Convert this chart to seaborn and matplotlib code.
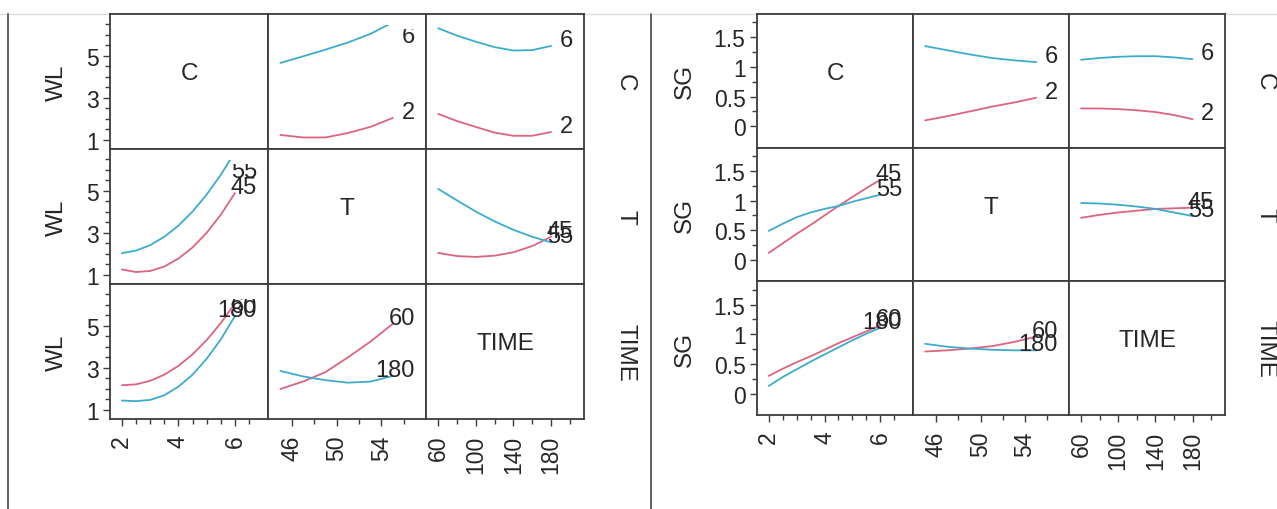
import numpy as np
import pandas as pd
import matplotlib
matplotlib.use("Agg")
import matplotlib.pyplot as plt
import seaborn as sns
from matplotlib.patches import Rectangle
from matplotlib.lines import Line2D
from matplotlib.ticker import FuncFormatter

# ---------------- data ----------------
FACTORS = ["C", "T", "TIME"]

# x positions (factor settings) of the profile curves
C_X = [2, 2.5, 3, 3.5, 4, 4.5, 5, 5.5, 6]
T_X = [45, 47, 49, 51, 53, 55]
TIME_X = [60, 80, 100, 120, 140, 160, 180]

# trace labels (low level, high level)
C_LABELS = ["2", "6"]
T_LABELS = ["45", "55"]
TIME_LABELS = ["60", "180"]

# WL response
WL_C2_vs_T = [1.24, 1.12, 1.12, 1.33, 1.62, 2.05]
WL_C6_vs_T = [4.67, 4.98, 5.30, 5.64, 6.05, 6.60]
WL_C2_vs_TIME = [2.24, 1.90, 1.62, 1.35, 1.20, 1.20, 1.38]
WL_C6_vs_TIME = [6.32, 5.97, 5.68, 5.42, 5.26, 5.28, 5.48]
WL_T45_vs_C = [1.26, 1.14, 1.19, 1.40, 1.78, 2.31, 3.01, 3.87, 4.90]
WL_T55_vs_C = [2.04, 2.16, 2.42, 2.82, 3.35, 4.02, 4.83, 5.77, 6.85]
WL_T45_vs_TIME = [2.05, 1.90, 1.86, 1.92, 2.08, 2.38, 2.82]
WL_T55_vs_TIME = [5.10, 4.55, 4.02, 3.55, 3.15, 2.82, 2.55]
WL_TIME60_vs_C = [2.18, 2.22, 2.39, 2.68, 3.10, 3.65, 4.33, 5.14, 6.07]
WL_TIME180_vs_C = [1.45, 1.42, 1.48, 1.70, 2.11, 2.68, 3.44, 4.36, 5.47]
WL_TIME60_vs_T = [2.00, 2.35, 2.80, 3.50, 4.25, 5.10]
WL_TIME180_vs_T = [2.86, 2.60, 2.42, 2.30, 2.35, 2.62]

# SG response
SG_C2_vs_T = [0.10, 0.17, 0.25, 0.33, 0.40, 0.48]
SG_C6_vs_T = [1.35, 1.28, 1.21, 1.15, 1.11, 1.08]
SG_C2_vs_TIME = [0.30, 0.30, 0.29, 0.27, 0.24, 0.19, 0.12]
SG_C6_vs_TIME = [1.12, 1.15, 1.17, 1.18, 1.18, 1.16, 1.13]
SG_T45_vs_C = [0.12, 0.28, 0.44, 0.59, 0.75, 0.91, 1.06, 1.21, 1.35]
SG_T55_vs_C = [0.49, 0.61, 0.72, 0.80, 0.86, 0.91, 0.98, 1.04, 1.10]
SG_T45_vs_TIME = [0.71, 0.76, 0.80, 0.83, 0.86, 0.87, 0.88]
SG_T55_vs_TIME = [0.96, 0.95, 0.93, 0.90, 0.86, 0.80, 0.74]
SG_TIME60_vs_C = [0.30, 0.42, 0.53, 0.63, 0.74, 0.85, 0.95, 1.05, 1.15]
SG_TIME180_vs_C = [0.13, 0.28, 0.41, 0.54, 0.66, 0.78, 0.90, 1.01, 1.11]
SG_TIME60_vs_T = [0.71, 0.73, 0.76, 0.80, 0.87, 0.96]
SG_TIME180_vs_T = [0.84, 0.79, 0.76, 0.74, 0.73, 0.73]

# axis ticks
C_TICKS = [2, 4, 6]
T_TICKS = [46, 50, 54]
TIME_TICKS = [60, 100, 140, 180]
WL_TICKS = [1, 3, 5]
SG_TICKS = [0, 0.5, 1, 1.5]

# ---------------- tables built from the arrays ----------------
X_LEVELS = {"C": C_X, "T": T_X, "TIME": TIME_X}
TRACE_LABELS = {"C": C_LABELS, "T": T_LABELS, "TIME": TIME_LABELS}
X_TICKS = {"C": C_TICKS, "T": T_TICKS, "TIME": TIME_TICKS}
X_MINOR = {"C": np.arange(2, 6.51, 0.5), "T": np.arange(46, 56.1, 2),
           "TIME": np.arange(60, 200.1, 20)}
X_LIMS = {"C": (1.58, 7.17), "T": (43.9, 57.96), "TIME": (47, 215)}

WL_CELLS = {
    ("C", "T"): (WL_C2_vs_T, WL_C6_vs_T),
    ("C", "TIME"): (WL_C2_vs_TIME, WL_C6_vs_TIME),
    ("T", "C"): (WL_T45_vs_C, WL_T55_vs_C),
    ("T", "TIME"): (WL_T45_vs_TIME, WL_T55_vs_TIME),
    ("TIME", "C"): (WL_TIME60_vs_C, WL_TIME180_vs_C),
    ("TIME", "T"): (WL_TIME60_vs_T, WL_TIME180_vs_T),
}
SG_CELLS = {
    ("C", "T"): (SG_C2_vs_T, SG_C6_vs_T),
    ("C", "TIME"): (SG_C2_vs_TIME, SG_C6_vs_TIME),
    ("T", "C"): (SG_T45_vs_C, SG_T55_vs_C),
    ("T", "TIME"): (SG_T45_vs_TIME, SG_T55_vs_TIME),
    ("TIME", "C"): (SG_TIME60_vs_C, SG_TIME180_vs_C),
    ("TIME", "T"): (SG_TIME60_vs_T, SG_TIME180_vs_T),
}

# ---------------- style ----------------
sns.set_theme(style="ticks")
plt.rcParams["font.family"] = ["Liberation Sans", "DejaVu Sans"]

RED = "#dc647f"
BLUE = "#3caccc"
FRAME = "#3c3c3c"
TXT = "#262626"

W, H = 1277, 510
fig = plt.figure(figsize=(W / 100, H / 100), dpi=100)
fig.patch.set_facecolor("white")


def px_axes(x0, y0, w, h):
    return fig.add_axes([x0 / W, 1 - (y0 + h) / H, w / W, h / H])


def draw_matrix(resp, cells, left, top, cw, ch, ylim, yticks, yminor,
                ylabel_dx, rowlabel_dx):
    px_per_unit = ch / (ylim[1] - ylim[0])
    cap = ylim[1] - 28 / px_per_unit
    line_clip = 1 - 11 / ch
    text_clip = 1 - 15 / ch
    for r, rf in enumerate(FACTORS):
        for c, cf in enumerate(FACTORS):
            ax = px_axes(left + c * cw, top + r * ch, cw, ch)
            ax.set_facecolor("white")
            ax.set_xlim(*X_LIMS[cf])
            ax.set_ylim(*ylim)
            for sp in ax.spines.values():
                sp.set_color(FRAME)
                sp.set_linewidth(1.3)
            if rf == cf:
                ax.text(0.5, 0.56, rf, transform=ax.transAxes, ha="center",
                        va="center", fontsize=17.5, color=TXT)
            else:
                lo, hi = cells[(rf, cf)]
                xs = X_LEVELS[cf]
                labs = TRACE_LABELS[rf]
                df = pd.DataFrame({
                    "x": list(xs) + list(xs),
                    "y": list(lo) + list(hi),
                    "level": [labs[0]] * len(xs) + [labs[1]] * len(xs),
                })
                sns.lineplot(data=df, x="x", y="y", hue="level",
                             hue_order=labs, palette=[RED, BLUE],
                             estimator=None, sort=False, legend=False,
                             linewidth=1.3, ax=ax)
                for ln in ax.lines:
                    ln.set_clip_path(Rectangle((0, 0), 1, line_clip,
                                               transform=ax.transAxes))
                for vals, lab in ((lo, labs[0]), (hi, labs[1])):
                    yv = min(vals[-1], cap)
                    t = ax.text(1 - 11 / cw, yv, lab,
                                transform=ax.get_yaxis_transform(),
                                ha="right", va="baseline", fontsize=17,
                                color=TXT, clip_on=True)
                    t.set_clip_path(Rectangle((0, 0), 1, text_clip,
                                              transform=ax.transAxes))
                    t.set_clip_on(True)
            ax.set_xlabel("")
            ax.set_ylabel("")
            # ticks
            ax.tick_params(which="major", direction="out", length=5.2,
                           width=1.0, color=FRAME, labelsize=16.5,
                           labelcolor=TXT, pad=3)
            ax.tick_params(which="minor", direction="out", length=3.8,
                           width=1.0, color=FRAME)
            if c == 0:
                ax.set_yticks(yticks)
                ax.set_yticks(yminor, minor=True)
                ax.yaxis.set_major_formatter(
                    FuncFormatter(lambda v, p: f"{v:g}"))
                ax.text(-ylabel_dx / cw, 0.5, resp, transform=ax.transAxes,
                        rotation=90, ha="center", va="center", fontsize=17.5,
                        color=TXT)
            else:
                ax.set_yticks([])
                ax.set_yticks([], minor=True)
            if r == 2:
                ax.set_xticks(X_TICKS[cf])
                ax.set_xticks(X_MINOR[cf], minor=True)
                ax.xaxis.set_major_formatter(
                    FuncFormatter(lambda v, p: f"{v:g}"))
                ax.tick_params(axis="x", which="major", pad=6)
                for lbl in ax.get_xticklabels():
                    lbl.set_rotation(90)
            else:
                ax.set_xticks([])
                ax.set_xticks([], minor=True)
            if c == 2:
                ax.text(1 + rowlabel_dx / cw, 0.5, rf, transform=ax.transAxes,
                        rotation=-90, ha="center", va="center", fontsize=17.5,
                        color=TXT)


draw_matrix("WL", WL_CELLS, left=110, top=15, cw=158, ch=135,
            ylim=(0.57, 7.0), yticks=WL_TICKS,
            yminor=np.arange(1, 6.51, 0.5), ylabel_dx=53, rowlabel_dx=41)
draw_matrix("SG", SG_CELLS, left=757, top=15, cw=156, ch=133.7,
            ylim=(-0.36, 1.89), yticks=SG_TICKS,
            yminor=np.arange(0, 1.76, 0.25), ylabel_dx=72, rowlabel_dx=40)

# outer frame lines of the report
fig.add_artist(Line2D([0, 1], [1 - 15 / H, 1 - 15 / H], transform=fig.transFigure,
                      color="#dcdcdc", lw=1.0, zorder=0))
for xp in (8, 651):
    fig.add_artist(Line2D([xp / W, xp / W], [0, 1 - 15 / H],
                          transform=fig.transFigure, color="#555555", lw=1.3))

fig.savefig("out.png", dpi=100, facecolor="white")
